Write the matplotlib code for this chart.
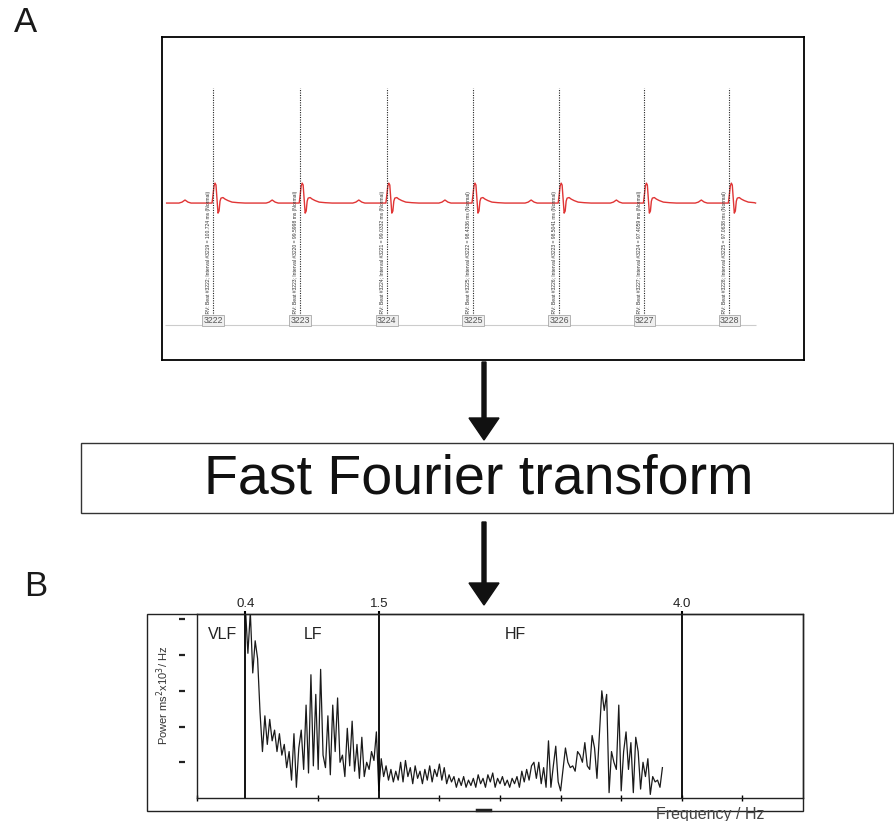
import matplotlib
matplotlib.use('Agg')
from matplotlib import pyplot as plt
from matplotlib.patches import Rectangle
import numpy as np

plt.rcParams['font.family'] = ['Liberation Sans', 'DejaVu Sans']

W, H = 895, 821

# panel A: beats marked by the HRV software
beat_ids = [3222, 3223, 3224, 3225, 3226, 3227, 3228]
interval_ids = [3219, 3220, 3221, 3222, 3223, 3224, 3225]
interval_ms = [100.724, 99.5998, 99.0332, 98.4336, 98.5041, 97.4059, 97.0638]

# one ecg complex: time from R peak (ms) and amplitude (a.u.)
beat_t = [-38.9, -35.4, -32.0, -28.6, -25.1, -1.1, 0.0, 1.1, 2.3, 3.4, 4.6,
          5.7, 6.9, 8.0, 9.1, 11.4, 13.7, 17.1, 21.7, 28.6, 36.6]
beat_v = [0, 0.05, 0.16, 0.05, 0, 0, 0.42, 0.89, 1.05, 0.95, 0.21,
          -0.53, -0.42, 0.10, 0.26, 0.29, 0.21, 0.13, 0.05, 0.02, 0]

# panel B: power spectrum, 0.40 Hz to 3.84 Hz
power = [5.3, 4.05, 5.2, 3.5, 4.4, 3.9, 2.4, 1.3, 2.3, 1.5,
         2.2, 1.6, 1.9, 1.3, 1.8, 1.2, 1.5, 0.85, 1.3, 0.5,
         1.8, 0.3, 1.4, 1.9, 0.8, 2.6, 0.7, 3.45, 0.9, 2.9,
         0.8, 3.6, 1.2, 0.85, 2.3, 0.65, 2.6, 1.3, 2.8, 1.0,
         1.2, 0.6, 1.95, 0.9, 2.15, 0.75, 1.5, 0.55, 1.7, 0.6,
         1.0, 0.8, 1.3, 1.05, 1.85, 0.2, 1.1, 0.6, 0.9, 0.5,
         0.8, 0.45, 0.75, 0.5, 1.0, 0.45, 1.05, 0.6, 0.85, 0.4,
         0.9, 0.55, 0.75, 0.4, 0.8, 0.5, 0.9, 0.45, 0.8, 0.6,
         0.95, 0.5, 0.85, 0.4, 0.65, 0.45, 0.6, 0.3, 0.55, 0.35,
         0.6, 0.3, 0.5, 0.35, 0.55, 0.3, 0.65, 0.4, 0.55, 0.3,
         0.65, 0.45, 0.7, 0.3, 0.55, 0.4, 0.6, 0.35, 0.5, 0.3,
         0.55, 0.4, 0.6, 0.3, 0.75, 0.45, 0.8, 0.5, 0.9, 1.0,
         0.55, 1.0, 0.4, 0.85, 0.3, 1.6, 0.3, 0.9, 1.45, 0.45,
         0.2, 0.8, 1.4, 1.0, 0.85, 0.9, 0.75, 1.3, 1.2, 1.0,
         1.55, 0.9, 0.8, 1.75, 1.4, 0.55, 1.75, 3.0, 2.45, 2.9,
         0.15, 1.3, 1.0, 0.8, 2.6, 0.2, 1.3, 1.85, 0.8, 1.55,
         0.15, 1.7, 1.3, 0.25, 1.0, 0.6, 1.1, 0.1, 0.6, 0.45,
         0.5, 0.3, 0.85]
freq = np.linspace(0.40, 3.84, len(power))
band_edges = [0.4, 1.5, 4.0]
band_names = ['VLF', 'LF', 'HF']

fig = plt.figure(figsize=(W / 100, H / 100), dpi=100)

# ---- panel A: ecg strip ----
ax_a = fig.add_axes([162 / W, 1 - 360 / H, 642 / W, 323 / H])
r_times = np.concatenate([[0], np.cumsum(interval_ms[1:])])
t_start, t_end = -53, r_times[-1] + 30
ecg_t, ecg_v = [t_start], [0]
for r in r_times:
    for dt, v in zip(beat_t, beat_v):
        if t_start < r + dt <= t_end:
            ecg_t.append(r + dt)
            ecg_v.append(v)
ecg_t.append(t_end)
ecg_v.append(0)
ax_a.plot(ecg_t, ecg_v, color='#e03535', lw=1.0)
ax_a.vlines(r_times, -6.05, 6.05, color='#222222', lw=0.8, linestyles=(0, (1, 1.2)))
ax_a.hlines(-6.42, t_start - 2, t_end + 1, color='#cccccc', lw=0.8)
for r, b, i, iv in zip(r_times, beat_ids, interval_ids, interval_ms):
    ax_a.text(r - 5.5, -6.0, f'HRV: Beat #{b}; Interval #{i} = {iv} ms (Normal)',
              rotation=90, ha='center', va='bottom', fontsize=3.6, color='#333333')
    ax_a.text(r, -6.2, str(b), ha='center', va='center', fontsize=6.3, color='#555555',
              bbox=dict(boxstyle='square,pad=0.12', fc='#efefef', ec='#a8a8a8', lw=0.6))
ax_a.set_xlim(-58.3, 675.4)
ax_a.set_ylim(-8.26, 8.74)
ax_a.set_xticks([])
ax_a.set_yticks([])
for s in ax_a.spines.values():
    s.set_linewidth(1.3)
    s.set_color('black')

# ---- panel B: spectrum ----
ax_b = fig.add_axes([197 / W, 1 - 798 / H, 606 / W, 184 / H])
ax_b.plot(freq, power, color='#1a1a1a', lw=0.9)
for f in band_edges:
    ax_b.axvline(f, color='black', lw=1.3)
ax_b.set_xlim(0, 5)
ax_b.set_ylim(0, 5.15)
ax_b.set_xticks([0, 1, 2, 2.5, 3, 3.5, 4, 4.5])
ax_b.set_xticklabels([])
ax_b.tick_params(axis='x', direction='inout', length=4, width=1)
ax_b.set_yticks([])
for s in ax_b.spines.values():
    s.set_linewidth(1.0)
    s.set_color('#222222')

top = ax_b.secondary_xaxis('top')
top.set_xticks(band_edges)
top.set_xticklabels(['0.4', '1.5', '4.0'])
top.tick_params(direction='out', length=2, width=1.5, pad=1, labelsize=9.5, labelcolor='#222222')
top.spines['top'].set_visible(False)

left = ax_b.secondary_yaxis(-0.02)
left.set_yticks([1, 2, 3, 4, 5])
left.set_yticklabels([])
left.tick_params(direction='out', length=4, width=1.6, color='#222222')
left.spines['left'].set_visible(False)

ax_b.text(-0.056, 0.56, r'Power ms$^2$x10$^3$/ Hz', rotation=90, transform=ax_b.transAxes,
          ha='center', va='center', fontsize=8, color='#333333')
for name, x in zip(band_names, [0.21, 0.96, 2.63]):
    ax_b.text(x, 4.57, name, ha='center', va='center', fontsize=11.5, color='#222222')

# ---- layout pieces in pixel units ----
ov = fig.add_axes([0, 0, 1, 1], zorder=10)
ov.patch.set_visible(False)
ov.set_xlim(0, W)
ov.set_ylim(H, 0)
ov.axis('off')
ov.text(26, 22, 'A', ha='center', va='center', fontsize=25, color='#1a1a1a')
ov.text(36, 587, 'B', ha='center', va='center', fontsize=25, color='#1a1a1a')
ov.arrow(484, 362, 0, 78, width=4, head_width=30, head_length=22,
         length_includes_head=True, color='#111111')
ov.arrow(484, 522, 0, 83, width=4, head_width=30, head_length=22,
         length_includes_head=True, color='#111111')
ov.add_patch(Rectangle((81, 443), 812, 70, fill=False, ec='#333333', lw=1.0))
ov.text(479, 479, 'Fast Fourier transform', ha='center', va='center', fontsize=40, color='#111111')
ov.add_patch(Rectangle((147, 614), 656, 197, fill=False, ec='#222222', lw=1.0))
ov.text(710, 815, 'Frequency / Hz', ha='center', va='center', fontsize=11.5, color='#444444')
ov.plot([477, 490], [810, 810], color='#222222', lw=2.5)

fig.savefig('out.png', dpi=100)
